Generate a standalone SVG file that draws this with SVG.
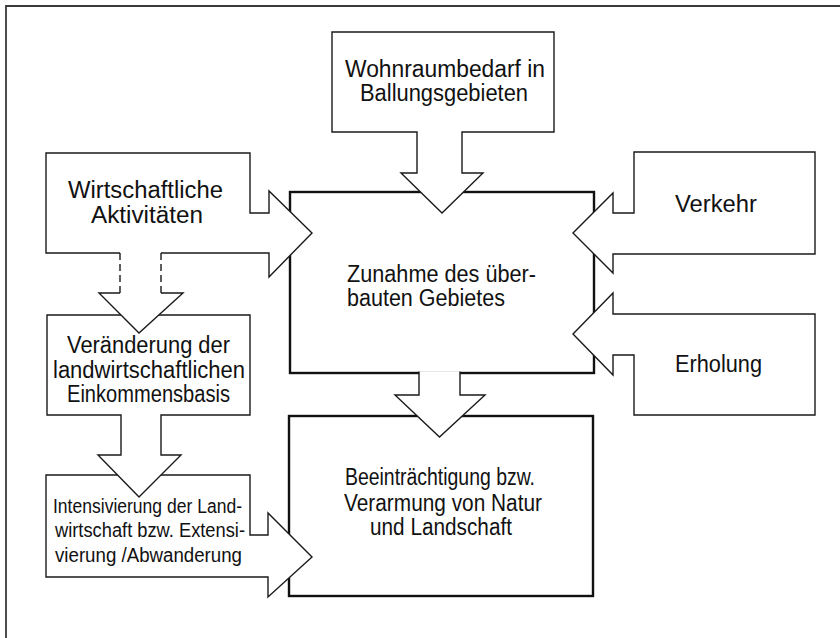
<svg xmlns="http://www.w3.org/2000/svg" width="840" height="638" viewBox="0 0 840 638">
<style>
  .frame { fill: none; stroke: #3a3a3a; stroke-width: 1.8; }
  .node { fill: #ffffff; stroke: #1a1a1a; stroke-width: 1.4; stroke-linejoin: miter; }
  .main { fill: #ffffff; stroke: #111111; stroke-width: 2.4; }
  .line { fill: none; stroke: #1a1a1a; stroke-width: 1.4; }
  .dash { fill: none; stroke: #1a1a1a; stroke-width: 1.4; stroke-dasharray: 7 4; }
  .fillonly { fill: #ffffff; stroke: none; }
  text { font-family: "Liberation Sans", Arial, sans-serif; font-size: 23px; fill: #111111; }
  .small { font-size: 20px; }
</style>
<rect width="840" height="638" fill="#ffffff"/>
<g id="frame">
  <path class="frame" d="M6,638 V6 H840"/>
</g>

<g id="zunahme">
  <rect class="main" x="290" y="192" width="304" height="181"/>
  <text x="347" y="282" textLength="189" lengthAdjust="spacingAndGlyphs">Zunahme des über-</text>
  <text x="347" y="306" textLength="158" lengthAdjust="spacingAndGlyphs">bauten Gebietes</text>
</g>

<g id="beeintraechtigung">
  <rect class="main" x="289" y="416" width="304" height="180"/>
  <text x="345" y="485" textLength="190" lengthAdjust="spacingAndGlyphs">Beeinträchtigung bzw.</text>
  <text x="344" y="511" textLength="198" lengthAdjust="spacingAndGlyphs">Verarmung von Natur</text>
  <text x="370" y="535" textLength="142" lengthAdjust="spacingAndGlyphs">und Landschaft</text>
</g>

<g id="connectors">
  <path class="node" d="M419,371.6 V395 H395 L439.5,437 L485,395 H460 V371.6"/>
</g>

<g id="wohnraum">
  <path class="node" d="M332,32 H554 V132 H462 V173 H483 L442,213 L401,173 H417 V132 H332 Z"/>
  <text x="345" y="77" textLength="200" lengthAdjust="spacingAndGlyphs">Wohnraumbedarf in</text>
  <text x="360" y="101" textLength="168" lengthAdjust="spacingAndGlyphs">Ballungsgebieten</text>
</g>

<g id="verkehr">
  <path class="node" d="M634,152 H815 V254 H613 V273 L573,233 L613,193 V213 H634 Z"/>
  <text x="675" y="212" textLength="82" lengthAdjust="spacingAndGlyphs">Verkehr</text>
</g>

<g id="erholung">
  <path class="node" d="M613,314 H815 V415 H634 V355 H613 V375 L573,334 L613,293 Z"/>
  <text x="675" y="372" textLength="87" lengthAdjust="spacingAndGlyphs">Erholung</text>
</g>

<g id="intensivierung">
  <path class="node" d="M46,475 H250 V535 H268 V513 L312,557 L268,597 V577 H46 Z"/>
  <text class="small" x="53" y="513" textLength="189" lengthAdjust="spacingAndGlyphs">Intensivierung der Land-</text>
  <text class="small" x="55" y="537" textLength="190" lengthAdjust="spacingAndGlyphs">wirtschaft bzw. Extensi-</text>
  <text class="small" x="55" y="562" textLength="187" lengthAdjust="spacingAndGlyphs">vierung /Abwanderung</text>
</g>

<g id="veraenderung">
  <path class="node" d="M47,315 H250 V415 H161 V455 H181 L139,497 L98,455 H121 V415 H47 Z"/>
  <text x="67" y="353" textLength="163" lengthAdjust="spacingAndGlyphs">Veränderung der</text>
  <text x="53" y="378" textLength="192" lengthAdjust="spacingAndGlyphs">landwirtschaftlichen</text>
  <text x="67" y="402" textLength="163" lengthAdjust="spacingAndGlyphs">Einkommensbasis</text>
</g>

<g id="wirtschaftliche">
  <path class="fillonly" d="M46,153 H250 V213 H269 V191 L312,233 L269,277 V253 H161 V293 H183 L139,333 L99,293 H120 V253 H46 Z"/>
  <path class="line" d="M120,253 H46 V153 H250 V213 H269 V191 L312,233 L269,277 V253 H161"/>
  <path class="dash" d="M120,253 V293 M161,253 V293"/>
  <path class="line" d="M120,293 H99 L139,333 L183,293 H161"/>
  <text x="68" y="198" textLength="155" lengthAdjust="spacingAndGlyphs">Wirtschaftliche</text>
  <text x="91" y="223" textLength="112" lengthAdjust="spacingAndGlyphs">Aktivitäten</text>
</g>
</svg>
